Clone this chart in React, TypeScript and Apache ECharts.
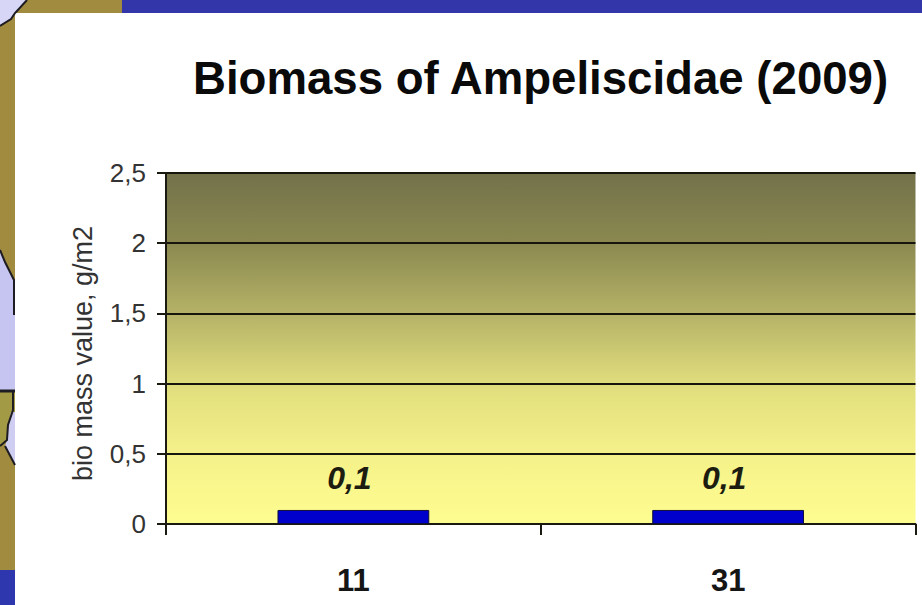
import React, { useEffect, useRef } from "react";
import * as echarts from "echarts";

const titleText = "Biomass of Ampeliscidae (2009)";
const yAxisName = "bio mass value, g/m2";
const categories = ["11", "31"];
const biomass = [0.1, 0.1];
const FONT = '"Liberation Sans", Arial, sans-serif';
const comma = (v: number) => String(v).replace(".", ",");

export default function App() {
  const ref = useRef<HTMLDivElement>(null);
  useEffect(() => {
    const chart = echarts.init(ref.current!, null, { renderer: "svg" });
    const coast = { stroke: "#1c1c22", lineWidth: 2, fill: "none" };
    chart.setOption({
      animation: false,
      backgroundColor: "#ffffff",
      title: {
        text: titleText,
        left: 188,
        top: 50,
        textStyle: { fontFamily: FONT, fontSize: 45.6, fontWeight: "bold", color: "#0a0a0a" },
      },
      grid: {
        left: 166,
        right: 6.5,
        top: 173,
        bottom: 81,
        show: true,
        borderWidth: 0,
        backgroundColor: {
          type: "linear",
          x: 0,
          y: 0,
          x2: 0,
          y2: 1,
          colorStops: [
            { offset: 0, color: "#72714a" },
            { offset: 0.2, color: "#8b8950" },
            { offset: 0.4, color: "#b5b267" },
            { offset: 0.6, color: "#e0dd7d" },
            { offset: 0.8, color: "#f5f18a" },
            { offset: 1, color: "#fefd90" },
          ],
        },
      },
      xAxis: {
        type: "category",
        data: categories,
        axisLine: { lineStyle: { color: "#1a1a10", width: 2 } },
        axisTick: { show: true, alignWithLabel: false, length: 11, lineStyle: { color: "#1a1a10", width: 2 } },
        axisLabel: { margin: 41, fontFamily: FONT, fontSize: 31, fontWeight: "bold", color: "#151515" },
      },
      yAxis: {
        type: "value",
        min: 0,
        max: 2.5,
        interval: 0.5,
        name: yAxisName,
        nameLocation: "middle",
        nameGap: 70,
        nameTextStyle: { fontFamily: FONT, fontSize: 27, color: "#333333", padding: [0, 10, 0, 0] },
        axisLine: { show: true, lineStyle: { color: "#1a1a10", width: 2 } },
        axisTick: { show: true, length: 9, lineStyle: { color: "#1a1a10", width: 2 } },
        axisLabel: { margin: 20, fontFamily: FONT, fontSize: 26, color: "#333333", formatter: (v: number) => comma(v) },
        splitLine: { show: true, lineStyle: { color: "#16160c", width: 2 } },
      },
      series: [
        {
          type: "bar",
          data: biomass,
          barWidth: "40.5%",
          itemStyle: { color: "#0000cc", borderColor: "#10103a", borderWidth: 1 },
          label: {
            show: true,
            position: "top",
            distance: 16,
            offset: [-4, 0],
            fontFamily: FONT,
            fontSize: 32,
            fontStyle: "italic",
            fontWeight: "bold",
            color: "#1c1c10",
            formatter: (p: any) => comma(p.value),
          },
        },
      ],
      graphic: [
        { type: "rect", silent: true, z: -1, shape: { x: 0, y: 0, width: 122, height: 13 }, style: { fill: "#a18b3f" } },
        { type: "rect", silent: true, z: -1, shape: { x: 122, y: 0, width: 800, height: 13 }, style: { fill: "#3236a8" } },
        { type: "rect", silent: true, z: -1, shape: { x: 0, y: 13, width: 15, height: 557 }, style: { fill: "#a18b3f" } },
        { type: "rect", silent: true, z: -1, shape: { x: 0, y: 570, width: 15, height: 35 }, style: { fill: "#2f37ae" } },
        { type: "polygon", silent: true, z: 0, shape: { points: [[0, 0], [27, 0], [15, 13], [11, 19], [0, 26]] }, style: { fill: "#d8d6f6" } },
        { type: "polyline", silent: true, z: 0, shape: { points: [[27, 0], [15, 13], [11, 19], [0, 26]] }, style: coast },
        { type: "polygon", silent: true, z: 0, shape: { points: [[0, 250], [5, 262], [11, 274], [13, 280], [15, 300], [15, 392], [0, 392]] }, style: { fill: "#c6c4f0" } },
        { type: "polyline", silent: true, z: 0, shape: { points: [[0, 250], [5, 262], [11, 274], [14, 280], [14, 315]] }, style: coast },
        { type: "polygon", silent: true, z: 0, shape: { points: [[0, 392], [15, 392], [15, 412], [11, 412], [8, 425], [7, 440], [0, 446]] }, style: { fill: "#a39a45" } },
        { type: "polygon", silent: true, z: 0, shape: { points: [[15, 412], [11, 412], [8, 425], [7, 440], [5, 446], [15, 465]] }, style: { fill: "#cfcdf2" } },
        { type: "polyline", silent: true, z: 0, shape: { points: [[0, 391], [15, 391]] }, style: { ...coast, lineWidth: 3 } },
        { type: "polyline", silent: true, z: 0, shape: { points: [[13, 392], [13, 410], [8, 425], [7, 440], [0, 446]] }, style: coast },
        { type: "polyline", silent: true, z: 0, shape: { points: [[5, 446], [15, 465]] }, style: coast },
      ],
    });
    return () => chart.dispose();
  }, []);
  return <div ref={ref} style={{ position: "fixed", left: 0, top: 0, width: 922, height: 605 }} />;
}
